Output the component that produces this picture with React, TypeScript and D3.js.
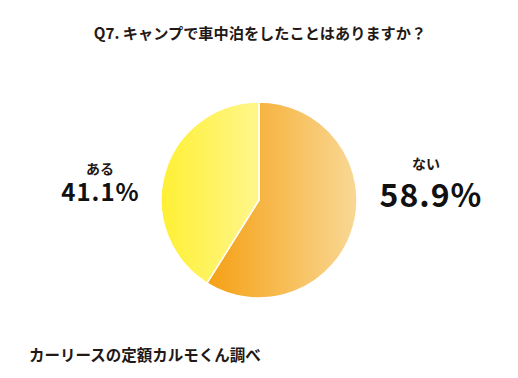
import React from "react";
import * as d3 from "d3";

const categories = ["ない", "ある"];
const values = [58.9, 41.1];
const labels = ["58.9%", "41.1%"];
const title = "Q7. キャンプで車中泊をしたことはありますか？";
const source = "カーリースの定額カルモくん調べ";

const W = 518, H = 378;
const cx = 259, cy = 200, R = 98;
const font = "'Noto Sans CJK JP', 'Noto Sans', sans-serif";

export default function App() {
  const pie = d3.pie<number>().sort(null).value((d) => d);
  const arcs = pie(values);
  const arc = d3.arc<d3.PieArcDatum<number>>().innerRadius(0).outerRadius(R);
  const grads = [
    { id: "g0", from: "#f5a013", to: "#f9d895" },
    { id: "g1", from: "#fff034", to: "#fff68c" },
  ];
  return (
    <svg width={W} height={H} style={{ position: "absolute", left: 0, top: 0 }}>
      <defs>
        {grads.map((g) => (
          <linearGradient key={g.id} id={g.id} x1="0" x2="1" y1="0" y2="0">
            <stop offset="0" stopColor={g.from} />
            <stop offset="1" stopColor={g.to} />
          </linearGradient>
        ))}
      </defs>
      <rect width={W} height={H} fill="#fff" />
      <text x={260} y={39} textAnchor="middle" fontFamily={font} fontWeight="bold" fontSize={15.2} fill="#231815">
        {title}
      </text>
      <g transform={`translate(${cx},${cy})`}>
        {arcs.map((a, i) => (
          <path key={i} d={arc(a) || ""} fill={`url(#g${i})`} stroke="#fff" strokeWidth={1.5} />
        ))}
      </g>
      <text x={426} y={169} textAnchor="middle" fontFamily={font} fontWeight="bold" fontSize={14} fill="#231815">
        {categories[0]}
      </text>
      <text x={431} y={207} textAnchor="middle" fontFamily={font} fontWeight="bold" fontSize={32} letterSpacing={1} fill="#111">
        {labels[0]}
      </text>
      <text x={100} y={174} textAnchor="middle" fontFamily={font} fontWeight="bold" fontSize={14} fill="#231815">
        {categories[1]}
      </text>
      <text x={100.5} y={201} textAnchor="middle" fontFamily={font} fontWeight="bold" fontSize={24} letterSpacing={1} fill="#111">
        {labels[1]}
      </text>
      <text x={29} y={361} fontFamily={font} fontWeight="bold" fontSize={15.5} fill="#231815">
        {source}
      </text>
    </svg>
  );
}
